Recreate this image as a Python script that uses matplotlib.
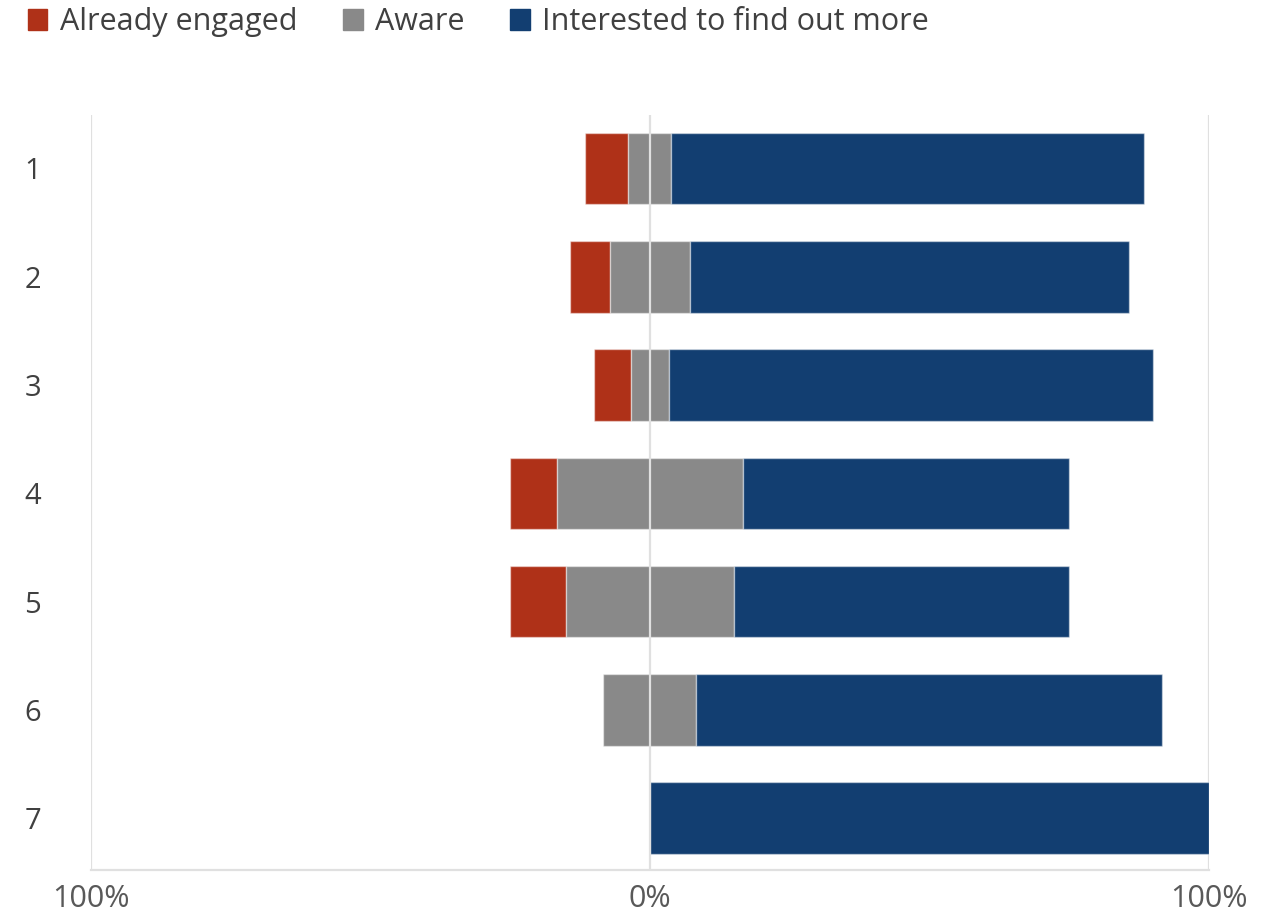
import matplotlib
matplotlib.use("Agg")
import matplotlib.pyplot as plt
from matplotlib.patches import Patch

plt.rcParams['font.family'] = ['Open Sans', 'DejaVu Sans']

# survey rows and response shares (%)
rows = ["1", "2", "3", "4", "5", "6", "7"]
engaged = [7.7, 7.1, 6.7, 8.3, 10.0, 0.0, 0.0]
aware = [7.7, 14.3, 6.7, 33.3, 30.0, 16.7, 0.0]
interested = [84.6, 78.6, 86.7, 58.3, 60.0, 83.3, 100.0]

tick_vals = [-100, 0, 100]
tick_labels = ["100%", "0%", "100%"]

c_engaged = "#AF3118"
c_aware = "#898989"
c_interested = "#123E71"
grid_col = "#E0E0E0"

fig = plt.figure(figsize=(12.63, 9.16), dpi=100)
ax = fig.add_axes([0.072, 0.050, 0.885, 0.824])

y = list(range(len(rows)))
h = 0.66
edge = (1, 1, 1, 0.45)

# aware is split evenly around zero, engaged sits left of it, interested right
aware_left = [-a / 2 for a in aware]
engaged_left = [-a / 2 - e for a, e in zip(aware, engaged)]
interested_left = [a / 2 for a in aware]

ax.barh(y, engaged, left=engaged_left, height=h, color=c_engaged,
        edgecolor=edge, linewidth=1, zorder=2)
ax.barh(y, aware, left=aware_left, height=h, color=c_aware,
        edgecolor=edge, linewidth=1, zorder=2)
ax.barh(y, interested, left=interested_left, height=h, color=c_interested,
        edgecolor=edge, linewidth=1, zorder=2)

for v in tick_vals:
    ax.axvline(v, color=grid_col, linewidth=1.6, zorder=3 if v == 0 else 1)

ax.set_xlim(-100, 100)
ax.set_ylim(6.48, -0.49)

ax.set_xticks(tick_vals)
ax.set_xticklabels(tick_labels)
ax.set_yticks(y)
ax.set_yticklabels(rows)
ax.tick_params(axis='x', length=0, pad=10, labelsize=22, labelcolor="#595959")
ax.tick_params(axis='y', length=0, pad=36, labelsize=21, labelcolor="#404040")

for s in ["top", "right", "left"]:
    ax.spines[s].set_visible(False)
ax.spines["bottom"].set_color(grid_col)
ax.spines["bottom"].set_linewidth(1.6)

handles = [Patch(color=c_engaged, label="Already engaged"),
           Patch(color=c_aware, label="Aware"),
           Patch(color=c_interested, label="Interested to find out more")]
fig.legend(handles=handles, loc="upper left", bbox_to_anchor=(0.0, 1.022),
           ncol=3, frameon=False, fontsize=22, handlelength=0.65,
           handleheight=0.65, handletextpad=0.4, columnspacing=1.5,
           labelcolor="#404040")

fig.savefig("out.png", dpi=100)
